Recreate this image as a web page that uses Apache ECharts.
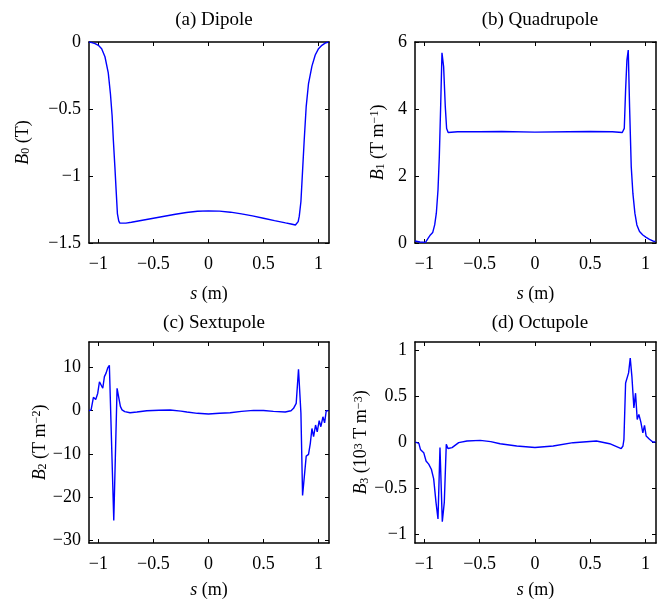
<!DOCTYPE html>
<html>
<head>
<meta charset="utf-8">
<script src="https://cdn.jsdelivr.net/npm/echarts@6/dist/echarts.min.js"></script>
<style>html,body{margin:0;padding:0;background:#fff}#c{width:657px;height:600px}</style>
</head>
<body>
<div id="c"></div>
<script>
// ---- Data ----
const titles = ['(a) Dipole', '(b) Quadrupole', '(c) Sextupole', '(d) Octupole'];
const xTicks = [-1, -0.5, 0, 0.5, 1];
const yTicksA = [-1.5, -1, -0.5, 0];
const yTicksB = [0, 2, 4, 6];
const yTicksC = [-30, -20, -10, 0, 10];
const yTicksD = [-1, -0.5, 0, 0.5, 1];

const sA = [-1.085, -1.06, -1.03, -1.0, -0.97, -0.94, -0.91, -0.89, -0.875, -0.864, -0.85, -0.839, -0.827, -0.815, -0.805, -0.79, -0.75, -0.7, -0.6, -0.5, -0.4, -0.3, -0.2, -0.1, 0, 0.1, 0.2, 0.3, 0.4, 0.5, 0.6, 0.7, 0.75, 0.79, 0.805, 0.815, 0.825, 0.84, 0.855, 0.87, 0.888, 0.909, 0.94, 0.97, 1.0, 1.03, 1.06, 1.09];
const bA = [0, -0.005, -0.012, -0.025, -0.05, -0.11, -0.23, -0.39, -0.55, -0.73, -0.93, -1.10, -1.28, -1.335, -1.352, -1.358, -1.352, -1.345, -1.33, -1.315, -1.30, -1.285, -1.272, -1.263, -1.26, -1.262, -1.27, -1.283, -1.298, -1.315, -1.333, -1.35, -1.358, -1.366, -1.362, -1.34, -1.30, -1.19, -0.96, -0.73, -0.48, -0.31, -0.18, -0.097, -0.05, -0.025, -0.008, 0];

const sB = [-1.085, -1.04, -0.99, -0.975, -0.967, -0.946, -0.925, -0.907, -0.892, -0.877, -0.865, -0.853, -0.841, -0.826, -0.811, -0.799, -0.785, -0.7, -0.5, -0.3, 0, 0.3, 0.5, 0.7, 0.79, 0.808, 0.82, 0.832, 0.844, 0.856, 0.871, 0.886, 0.904, 0.922, 0.946, 0.976, 1.006, 1.036, 1.066, 1.09];
const bB = [0.06, 0.03, 0.02, 0.06, 0.14, 0.24, 0.31, 0.54, 0.89, 1.58, 2.58, 4.07, 5.68, 5.26, 4.07, 3.42, 3.3, 3.32, 3.32, 3.33, 3.31, 3.32, 3.33, 3.32, 3.3, 3.42, 4.57, 5.46, 5.76, 4.07, 2.28, 1.48, 0.89, 0.54, 0.34, 0.24, 0.17, 0.11, 0.06, 0.04];

const sC = [-1.085, -1.066, -1.045, -1.024, -1.006, -0.99, -0.975, -0.96, -0.945, -0.93, -0.915, -0.9, -0.882, -0.86, -0.83, -0.815, -0.8, -0.785, -0.76, -0.712, -0.65, -0.56, -0.45, -0.348, -0.25, -0.196, -0.1, 0, 0.1, 0.197, 0.3, 0.41, 0.5, 0.59, 0.697, 0.75, 0.773, 0.797, 0.818, 0.84, 0.855, 0.873, 0.888, 0.909, 0.925, 0.94, 0.955, 0.973, 0.988, 1.006, 1.021, 1.04, 1.055, 1.07, 1.09];
const bC = [0, 0.2, 3.1, 2.6, 4.0, 6.7, 7.1, 5.2, 7.9, 8.7, 9.9, 10.5, 10.5, -25.4, 5.2, 4.8, 1.0, 0.2, -0.2, -0.46, -0.3, 0, 0.1, 0.16, -0.1, -0.3, -0.6, -0.77, -0.6, -0.46, -0.15, 0.08, 0.05, -0.15, -0.3, 0, 0.55, 1.7, 9.6, -0.6, -19.6, -19.4, -10.5, -10.1, -7.6, -4.1, -6.0, -3.3, -4.9, -2.3, -3.7, -1.4, -2.8, 0, 0];

const sD = [-1.081, -1.05, -1.036, -1.02, -1.006, -0.985, -0.961, -0.937, -0.916, -0.895, -0.877, -0.859, -0.838, -0.82, -0.802, -0.787, -0.75, -0.69, -0.615, -0.495, -0.4, -0.315, -0.165, 0, 0.165, 0.345, 0.556, 0.676, 0.78, 0.796, 0.805, 0.82, 0.835, 0.847, 0.862, 0.877, 0.895, 0.91, 0.925, 0.94, 0.958, 0.976, 0.991, 1.006, 1.02, 1.036, 1.066, 1.09];
const bD = [0, -0.014, -0.08, -0.07, -0.115, -0.205, -0.24, -0.295, -0.4, -0.655, -0.835, -0.06, -0.864, -0.655, -0.025, -0.07, -0.06, -0.007, 0.011, 0.018, 0.005, -0.018, -0.043, -0.06, -0.043, -0.007, 0.011, -0.018, -0.072, -0.043, 0.03, 0.64, 0.62, 0.75, 0.91, 0.71, 0.37, 0.53, 0.245, 0.3, 0.216, 0.1, 0.18, 0.065, 0.083, 0.03, 0, 0];

// ---- Layout / style ----
const FONT = 'Liberation Serif';
const FS = 18;
const BLUE = '#0000ff';
const panels = [
  {s: sA, b: bA, yTicks: yTicksA, ymin: -1.5, ymax: 0, grid: {left: 89, top: 42, width: 240, height: 201}, title: {x: 209, y: 6}, yname: '{i|B}{sub|0} (T)', ygap: 57, xgap: 42},
  {s: sB, b: bB, yTicks: yTicksB, ymin: 0, ymax: 6, grid: {left: 415, top: 42, width: 241, height: 201}, title: {x: 535, y: 6}, yname: '{i|B}{sub|1} (T m{sup|−1})', ygap: 28, xgap: 42},
  {s: sC, b: bC, yTicks: yTicksC, ymin: -30.6, ymax: 15.9, grid: {left: 89, top: 342, width: 240, height: 201}, title: {x: 209, y: 309}, yname: '{i|B}{sub|2} (T m{sup|−2})', ygap: 26, xgap: 38},
  {s: sD, b: bD, yTicks: yTicksD, ymin: -1.095, ymax: 1.085, grid: {left: 415, top: 342, width: 241, height: 202}, title: {x: 535, y: 309}, yname: '{i|B}{sub|3} (10{sup|3} T m{sup|−3})', ygap: 39, xgap: 38}
];

const fmt = v => String(v).replace('-', '−');
const rich = {
  i: {fontFamily: FONT, fontStyle: 'italic', fontSize: FS, color: '#000'},
  sub: {fontFamily: FONT, fontSize: 12, verticalAlign: 'bottom', color: '#000', padding: [6, 0, 0, 0]},
  sup: {fontFamily: FONT, fontSize: 12, verticalAlign: 'top', color: '#000', padding: [0, 0, 6, 0]}
};
const axisLine = {show: true, onZero: false, lineStyle: {color: '#000', width: 1.5}};

const option = {
  animation: false,
  backgroundColor: '#fff',
  title: [], grid: [], xAxis: [], yAxis: [], series: []
};

panels.forEach((p, k) => {
  option.title.push({
    text: titles[k], left: p.title.x, top: p.title.y, textAlign: 'center',
    textStyle: {fontFamily: FONT, fontSize: 19, fontWeight: 'normal', color: '#000'}
  });
  option.grid.push(Object.assign({show: false}, p.grid));
  const xmin = -1.085, xmax = 1.095;
  option.xAxis.push({
    type: 'value', gridIndex: k, min: xmin, max: xmax, position: 'bottom',
    name: '{i|s} (m)', nameLocation: 'middle', nameGap: p.xgap,
    nameTextStyle: {fontFamily: FONT, fontSize: FS, color: '#000', rich: rich},
    axisLine: axisLine, splitLine: {show: false},
    axisTick: {show: true, inside: true, length: 4, customValues: xTicks, lineStyle: {color: '#000', width: 1}},
    axisLabel: {customValues: xTicks, formatter: fmt, fontFamily: FONT, fontSize: FS, color: '#000', margin: 12}
  });
  option.xAxis.push({
    type: 'value', gridIndex: k, min: xmin, max: xmax, position: 'top',
    axisLine: axisLine, splitLine: {show: false},
    axisTick: {show: true, inside: true, length: 4, customValues: xTicks, lineStyle: {color: '#000', width: 1}},
    axisLabel: {show: false}
  });
  option.yAxis.push({
    type: 'value', gridIndex: k, min: p.ymin, max: p.ymax, position: 'left',
    name: p.yname, nameLocation: 'middle', nameGap: p.ygap, nameRotate: 90,
    nameTextStyle: {fontFamily: FONT, fontSize: FS, color: '#000', rich: rich},
    axisLine: axisLine, splitLine: {show: false},
    axisTick: {show: true, inside: true, length: 4, customValues: p.yTicks, lineStyle: {color: '#000', width: 1}},
    axisLabel: {customValues: p.yTicks, formatter: fmt, fontFamily: FONT, fontSize: FS, color: '#000', margin: 8}
  });
  option.yAxis.push({
    type: 'value', gridIndex: k, min: p.ymin, max: p.ymax, position: 'right',
    axisLine: axisLine, splitLine: {show: false},
    axisTick: {show: true, inside: true, length: 4, customValues: p.yTicks, lineStyle: {color: '#000', width: 1}},
    axisLabel: {show: false}
  });
  option.series.push({
    type: 'line', xAxisIndex: 2 * k, yAxisIndex: 2 * k,
    data: p.s.map((s, j) => [s, p.b[j]]),
    showSymbol: false, symbol: 'none',
    lineStyle: {color: BLUE, width: 1.4}, silent: true
  });
});

const chart = echarts.init(document.getElementById('c'), null, {renderer: 'canvas'});
chart.setOption(option);
</script>
</body>
</html>
